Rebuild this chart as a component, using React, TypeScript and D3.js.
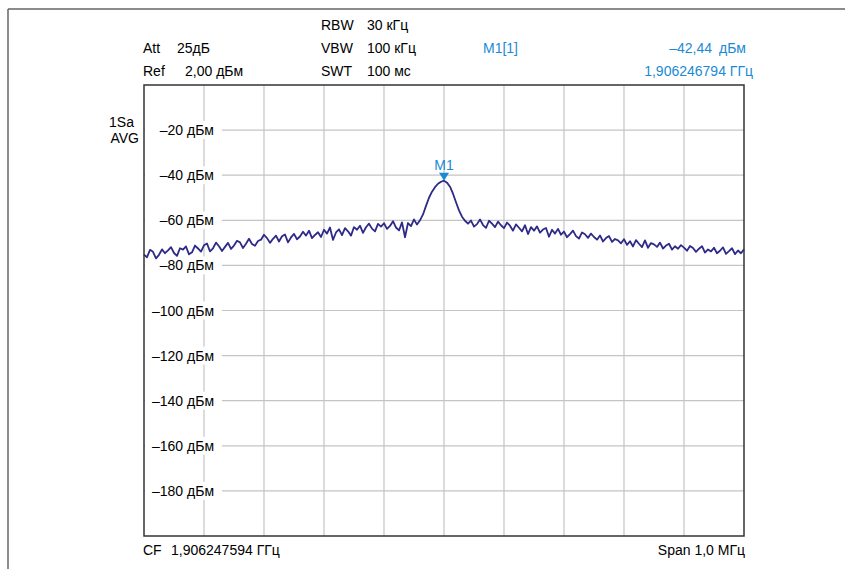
import React from "react";
import * as d3 from "d3";

// trace levels, dBm, one every 5 kHz from CF-500 kHz to CF+500 kHz
const traceLevels: number[] = [
  -75.2, -76.4, -73.1, -74.0, -76.9, -75.3, -72.9, -74.6, -73.3, -71.9,
  -74.5, -75.8, -72.4, -73.0, -71.6, -75.1, -74.2, -71.2, -72.5, -73.9,
  -71.1, -70.3, -73.8, -72.4, -69.9, -71.5, -73.6, -71.8, -70.0, -72.7,
  -71.2, -69.1, -69.8, -72.3, -70.4, -68.2, -70.5, -71.3, -69.2, -68.6,
  -66.4, -67.9, -70.0, -68.2, -66.8, -69.4, -67.1, -66.3, -69.8, -67.6,
  -66.0, -68.4, -67.2, -65.1, -66.8, -64.6, -67.9, -66.5, -65.3, -67.4,
  -64.2, -65.9, -63.2, -68.7, -65.4, -64.0, -66.6, -63.5, -64.9, -66.8,
  -63.0, -64.2, -62.4, -65.6, -63.1, -61.5, -63.7, -64.9, -61.6, -62.8,
  -61.3, -63.8, -62.5, -60.4, -63.2, -64.5, -60.9, -67.5, -61.2, -62.6,
  -59.6, -61.9, -60.0,
  -57.4, -53.6, -50.0, -47.3, -45.3, -43.8, -42.9, -42.44, -43.3, -45.1,
  -48.2, -52.0, -55.6, -58.4, -60.2, -61.5,
  -60.1, -62.8, -61.7, -59.6, -62.1, -63.4, -60.2, -61.5, -63.0, -60.6, -62.2,
  -63.5, -61.0, -62.4, -64.6, -61.8, -63.3, -64.9, -62.2, -66.1, -63.0,
  -64.6, -62.7, -65.5, -64.1, -63.4, -67.3, -64.2, -65.9, -63.8, -66.4,
  -65.0, -67.5, -66.1, -64.6, -67.0, -68.1, -65.4, -66.2, -67.8, -65.9,
  -67.4, -68.6, -66.7, -69.4, -67.9, -67.0, -69.6, -68.3, -68.9, -70.2,
  -68.4, -70.9, -69.3, -71.6, -68.8, -70.4, -71.9, -68.9, -72.2, -70.1,
  -70.7, -71.8, -69.9, -72.5, -71.2, -70.4, -73.0, -71.5, -72.6, -71.0,
  -72.1, -73.5, -71.4, -72.3, -74.0, -72.6, -71.5, -74.3, -72.9, -73.8,
  -72.2, -74.6, -73.5, -72.0, -74.9, -73.7, -72.4, -75.0, -73.4, -74.6, -72.9,
];

const freqStepKHz = 5;
const spanKHz = 1000;
const levelTicks = [-20, -40, -60, -80, -100, -120, -140, -160, -180];
const freqGrid = [-400, -300, -200, -100, 0, 100, 200, 300, 400];

const markerFreqKHz = 0;
const markerLevel = -42.44;

const W = 845;
const H = 569;
const plot = { left: 144, right: 744, top: 85, bottom: 536 };
const traceColor = "#2e2a87";
const blue = "#1a8ad4";
const font = "'Liberation Sans', Arial, sans-serif";

export default function App() {
  const x = d3.scaleLinear().domain([-spanKHz / 2, spanKHz / 2]).range([plot.left, plot.right]);
  const y = d3.scaleLinear().domain([-200, 0]).range([plot.bottom, plot.top]);

  const line = d3
    .line<number>()
    .x((d, i) => x(-spanKHz / 2 + i * freqStepKHz))
    .y((d) => y(d));

  const mx = x(markerFreqKHz);
  const my = y(markerLevel);

  return (
    <svg
      width={W}
      height={H}
      style={{ position: "absolute", left: 0, top: 0, background: "#fff" }}
      fontFamily={font}
      fontSize={14}
    >
      {/* outer frame */}
      <line x1={8} y1={9} x2={W} y2={9} stroke="#666" strokeWidth={1.5} />
      <line x1={8} y1={9} x2={8} y2={H} stroke="#666" strokeWidth={1.5} />

      {/* header */}
      <text x={321} y={30}>RBW</text>
      <text x={367} y={30}>30 кГц</text>
      <text x={143} y={53}>Att</text>
      <text x={177} y={53}>25дБ</text>
      <text x={321} y={53}>VBW</text>
      <text x={367} y={53}>100 кГц</text>
      <text x={483} y={53} fill={blue}>M1[1]</text>
      <text x={712} y={53} fill={blue} textAnchor="end">–42,44</text>
      <text x={746} y={53} fill={blue} textAnchor="end">дБм</text>
      <text x={143} y={76}>Ref</text>
      <text x={185} y={76}>2,00 дБм</text>
      <text x={321} y={76}>SWT</text>
      <text x={367} y={76}>100 мс</text>
      <text x={753} y={76} fill={blue} textAnchor="end">1,906246794 ГГц</text>

      <text x={134} y={127} textAnchor="end">1Sa</text>
      <text x={139} y={143} textAnchor="end">AVG</text>

      {/* grid */}
      {freqGrid.map((f) => (
        <line key={"v" + f} x1={x(f)} x2={x(f)} y1={plot.top} y2={plot.bottom} stroke="#c4c4c4" strokeWidth={1.2} />
      ))}
      {levelTicks.map((v) => (
        <line key={"h" + v} x1={plot.left} x2={plot.right} y1={y(v)} y2={y(v)} stroke="#c4c4c4" strokeWidth={1.2} />
      ))}
      {levelTicks.map((v) => (
        <g key={"l" + v}>
          <rect x={plot.left + 1} y={y(v) - 9} width={77} height={18} fill="#fff" />
          <text x={214} y={y(v) + 5} textAnchor="end">
            {"–" + Math.abs(v) + " дБм"}
          </text>
        </g>
      ))}

      {/* trace */}
      <path d={line(traceLevels) || ""} fill="none" stroke={traceColor} strokeWidth={1.8} strokeLinejoin="round" />

      {/* marker */}
      <path d={`M${mx - 5},${my - 8}L${mx + 5},${my - 8}L${mx},${my}Z`} fill={blue} />
      <text x={mx} y={my - 11} fill={blue} textAnchor="middle">M1</text>

      {/* plot frame */}
      <rect
        x={plot.left}
        y={plot.top}
        width={plot.right - plot.left}
        height={plot.bottom - plot.top}
        fill="none"
        stroke="#333"
        strokeWidth={1.5}
      />

      {/* footer */}
      <text x={143} y={555}>CF</text>
      <text x={171} y={555}>1,906247594 ГГц</text>
      <text x={745} y={555} textAnchor="end">Span 1,0 МГц</text>
    </svg>
  );
}
